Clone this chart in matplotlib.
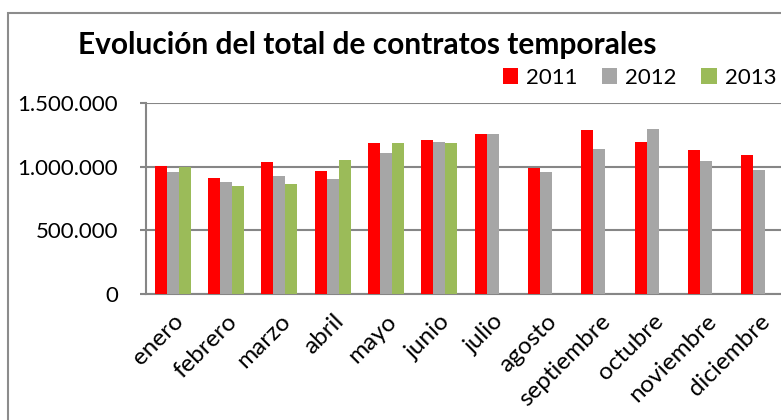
import numpy as np
import matplotlib
matplotlib.use('Agg')
from matplotlib import pyplot as plt
from matplotlib.patches import Rectangle
from matplotlib.ticker import FuncFormatter

plt.rcParams['font.family'] = ['Lato', 'DejaVu Sans']

months = ['enero', 'febrero', 'marzo', 'abril', 'mayo', 'junio', 'julio',
          'agosto', 'septiembre', 'octubre', 'noviembre', 'diciembre']
v2011 = [1007000, 913000, 1038000, 968000, 1183000, 1212000, 1256000,
         991000, 1288000, 1196000, 1130000, 1094000]
v2012 = [957000, 881000, 923000, 907000, 1104000, 1191000, 1259000,
         957000, 1141000, 1295000, 1046000, 976000]
v2013 = [994000, 852000, 865000, 1052000, 1183000, 1188000]
years = ['2011', '2012', '2013']
colors = ['#FF0000', '#A6A6A6', '#9BBB59']

fig = plt.figure(figsize=(7.81, 4.2), dpi=100)
ax = fig.add_axes([146 / 781, 126 / 420, 640 / 781, 191 / 420])

w = 0.225
x = np.arange(len(months))
for i, (vals, c, yr) in enumerate(zip([v2011, v2012, v2013], colors, years)):
    xs = x[:len(vals)] + (i - 1) * w
    ax.bar(xs, vals, w, color=c, label=yr, zorder=3)

ax.set_xlim(-0.5, 11.5)
ax.set_ylim(0, 1500000)
ax.set_yticks([0, 500000, 1000000, 1500000])
ax.yaxis.set_major_formatter(FuncFormatter(lambda v, p: f'{int(v):,}'.replace(',', '.')))
ax.yaxis.grid(True, color='#868686', linewidth=1.5, zorder=0)
ax.set_xticks(x)
ax.set_xticklabels(months, rotation=45, ha='right', va='top', rotation_mode='anchor')
ax.tick_params(axis='x', length=0, pad=12, labelsize=17.5)
ax.tick_params(axis='y', length=4, color='#868686', width=1.5, pad=16, labelsize=16)
for s in ['top', 'right']:
    ax.spines[s].set_visible(False)
for s in ['left', 'bottom']:
    ax.spines[s].set_color('#868686')
    ax.spines[s].set_linewidth(1.5)

fig.text(367 / 781, 1 - 45 / 420, 'Evolución del total de contratos temporales',
         ha='center', va='center', fontsize=21.5, fontweight='bold')

ax.legend(loc='upper right', bbox_to_anchor=(776 / 781, 1 - 68 / 420),
          bbox_transform=fig.transFigure, ncol=3, frameon=False, fontsize=16,
          handlelength=0.7, handleheight=0.7, handletextpad=0.35, columnspacing=1.1,
          borderaxespad=0, borderpad=0)

fig.patches.append(Rectangle((8 / 781, -0.1), 1.1, 1.1 - 13 / 420, transform=fig.transFigure,
                             fill=False, edgecolor='#8C8C8C', linewidth=1.5))

fig.savefig('out.png', dpi=100)
